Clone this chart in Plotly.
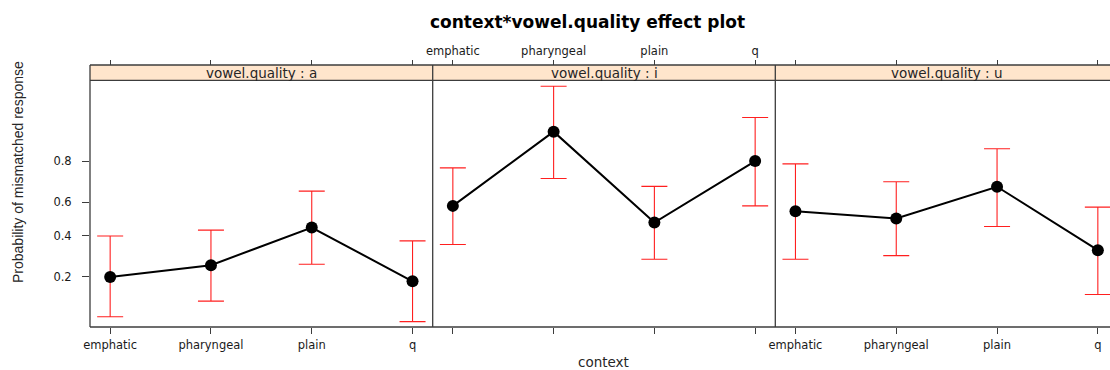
import numpy as np
import plotly.graph_objects as go

# ---- data (probabilities) ----
categories = ["emphatic", "pharyngeal", "plain", "q"]
panels = ["a", "i", "u"]

fit_a = [0.200, 0.249, 0.449, 0.184]
lower_a = [0.088, 0.123, 0.253, 0.079]
upper_a = [0.400, 0.434, 0.661, 0.372]

fit_i = [0.578, 0.890, 0.479, 0.800]
lower_i = [0.352, 0.725, 0.276, 0.578]
upper_i = [0.773, 0.960, 0.686, 0.919]

fit_u = [0.547, 0.503, 0.684, 0.322]
lower_u = [0.276, 0.294, 0.455, 0.141]
upper_u = [0.789, 0.709, 0.843, 0.571]

y_ticks = [0.2, 0.4, 0.6, 0.8]
y_tick_labels = ["0.2", "0.4", "0.6", "0.8"]


def logit(p):
    p = np.asarray(p, dtype=float)
    return np.log(p / (1 - p))


series = [(fit_a, lower_a, upper_a), (fit_i, lower_i, upper_i), (fit_u, lower_u, upper_u)]

# ---- layout geometry ----
W, H = 1110, 370
ML, MR, MT, MB = 90, 0, 65, 43
PW = W - ML - MR
PH = H - MT - MB
d1 = 342.7 / PW
d2 = 685.3 / PW
panel_top = (H - MB - 80.3) / PH
domains = [[0, d1], [d1, d2], [d2, 1.0]]
unit = 342.7 / 3.4
x_ranges = [[0.8, 4.2], [0.8, 4.2], [0.8, 0.8 + (PW - 685.3) / unit]]
y_range = [-2.584, 3.320]

FONT = "DejaVu Sans"
TXT = "#1a1a1a"
BORDER = "#3c3c3c"
RED = "#ff1f1f"

fig = go.Figure()
xs = list(range(1, len(categories) + 1))
for k, (fit, lo, hi) in enumerate(series):
    f = logit(fit)
    sx = "x" if k == 0 else f"x{k+1}"
    sy = "y" if k == 0 else f"y{k+1}"
    fig.add_trace(go.Scatter(
        x=xs, y=f, xaxis=sx, yaxis=sy, mode="lines+markers",
        line=dict(color="black", width=2),
        marker=dict(color="black", size=12),
        error_y=dict(type="data", symmetric=False,
                     array=logit(hi) - f, arrayminus=f - logit(lo),
                     color=RED, thickness=1.1, width=13),
        cliponaxis=False,
        showlegend=False, hoverinfo="skip"))
    # invisible trace to bind the top tick axes
    fig.add_trace(go.Scatter(x=[None], y=[None], xaxis=f"x{k+4}", yaxis=sy,
                             showlegend=False, hoverinfo="skip"))

layout = dict(
    width=W, height=H, margin=dict(l=ML, r=MR, t=MT, b=MB, autoexpand=False),
    paper_bgcolor="white", plot_bgcolor="white",
    font=dict(family=FONT, color=TXT, size=11),
    showlegend=False,
)

for k in range(3):
    name = "xaxis" if k == 0 else f"xaxis{k+1}"
    yname = "y" if k == 0 else f"y{k+1}"
    layout[name] = dict(
        domain=domains[k], range=x_ranges[k], anchor=yname,
        tickvals=xs, ticktext=categories,
        showticklabels=(k != 1), ticks="outside", ticklen=6,
        tickcolor=BORDER, tickwidth=1, ticklabelstandoff=1,
        tickfont=dict(family=FONT, size=11.5, color=TXT),
        showgrid=False, zeroline=False, showline=False, fixedrange=True,
        automargin=False)
    layout[f"xaxis{k+4}"] = dict(
        domain=domains[k], range=x_ranges[k], anchor="free", position=1,
        overlaying=("x" if k == 0 else f"x{k+1}"), side="top",
        tickvals=xs, ticktext=categories,
        showticklabels=(k == 1), ticks="outside", ticklen=5,
        tickcolor=BORDER, tickwidth=1, ticklabelstandoff=0,
        tickfont=dict(family=FONT, size=11.5, color=TXT),
        showgrid=False, zeroline=False, showline=False, automargin=False)
    yax = "yaxis" if k == 0 else f"yaxis{k+1}"
    ydict = dict(domain=[0, panel_top], range=y_range,
                 anchor=("x" if k == 0 else f"x{k+1}"),
                 showgrid=False, zeroline=False, showline=False, automargin=False)
    if k == 0:
        ydict.update(tickvals=list(logit(y_ticks)), ticktext=y_tick_labels,
                     ticks="outside", ticklen=7, tickcolor=BORDER, tickwidth=1,
                     ticklabelstandoff=8,
                     tickfont=dict(family=FONT, size=11.5, color=TXT))
    else:
        ydict.update(matches="y", showticklabels=False, ticks="")
    layout[yax] = ydict

shapes = []
# strip background
shapes.append(dict(type="rect", xref="paper", yref="paper", x0=0, x1=1,
                   y0=panel_top, y1=1, fillcolor="#ffe5cc", line_width=0, layer="below"))
# horizontal borders
for yy in [0, panel_top, 1]:
    shapes.append(dict(type="line", xref="paper", yref="paper", x0=0, x1=1,
                       y0=yy, y1=yy, line=dict(color=BORDER, width=1.3)))
# vertical borders
for xx in [0, d1, d2]:
    shapes.append(dict(type="line", xref="paper", yref="paper", x0=xx, x1=xx,
                       y0=0, y1=1, line=dict(color=BORDER, width=1.3)))
layout["shapes"] = shapes

ann = []
for k, p in enumerate(panels):
    ann.append(dict(text=f"vowel.quality : {p}", xref="paper", yref="paper",
                    x=sum(domains[k]) / 2 if k < 2 else (d2 + (d2 + 342.7 / PW)) / 2,
                    y=(panel_top + 1) / 2, yanchor="middle", xanchor="center",
                    showarrow=False, font=dict(family=FONT, size=13.5, color="#262626")))
ann.append(dict(text="context*vowel.quality effect plot", xref="paper", yref="paper",
                x=(587 - ML) / PW, y=(H - MB - 22) / PH, xanchor="center", yanchor="middle",
                showarrow=False, font=dict(family="DejaVu Sans", size=17, color="black", weight="bold")))
ann.append(dict(text="context", xref="paper", yref="paper",
                x=(603 - ML) / PW, y=(H - MB - 362) / PH, xanchor="center", yanchor="middle",
                showarrow=False, font=dict(family=FONT, size=13.5, color="#262626")))
ann.append(dict(text="Probability of mismatched response", xref="paper", yref="paper",
                x=(18 - ML) / PW, y=(H - MB - 172) / PH, xanchor="center", yanchor="middle",
                textangle=-90, showarrow=False,
                font=dict(family="Liberation Sans", size=14, color="#262626")))
layout["annotations"] = ann

fig.update_layout(**layout)
fig.write_html("out.html", config={"displayModeBar": False},
               post_script="document.body.style.margin='0';document.body.style.overflow='hidden';")
